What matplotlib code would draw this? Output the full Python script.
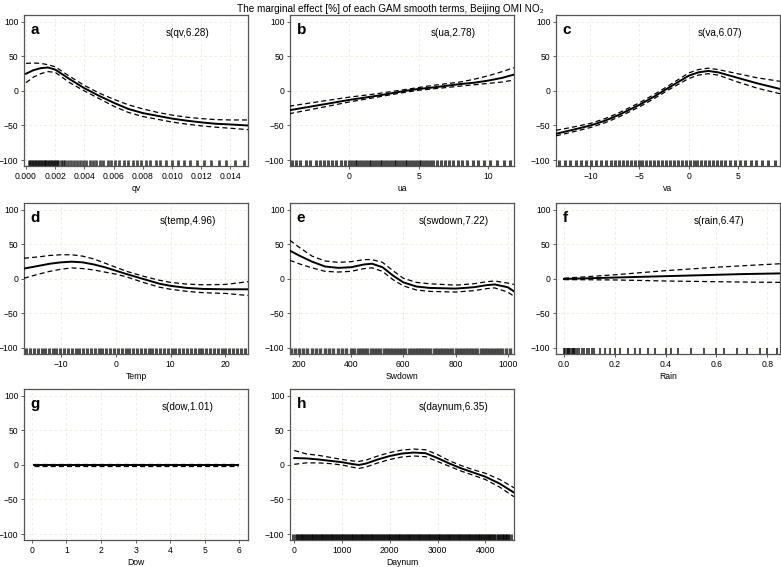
import numpy as np
import matplotlib
matplotlib.use('Agg')
from matplotlib import pyplot as plt

plt.rcParams['font.family'] = ['Liberation Sans', 'DejaVu Sans']

title = 'The marginal effect [%] of each GAM smooth terms, Beijing OMI NO\u2082'

# a: qv
qv_x = [0.0, 0.0005, 0.001, 0.0015, 0.002, 0.003, 0.004, 0.005, 0.006, 0.007, 0.008, 0.009, 0.010, 0.011, 0.012, 0.013, 0.014, 0.0152]
qv_fit = [25, 30, 33, 34, 31, 17, 4, -7, -17, -26, -32, -36, -40, -43, -45.5, -47.5, -48.5, -50]
qv_up = [40, 40.5, 40, 38, 35, 21, 8, -3, -12, -20, -26, -31, -35, -38, -40, -41.5, -42, -42]
qv_lo = [12, 20, 25, 28, 27, 12, 0, -11, -22, -31, -37, -41, -45, -48, -50.5, -52.5, -54, -56]
qv_rug = [0.0002, 0.0003, 0.0004, 0.0005, 0.0006, 0.0007, 0.0008, 0.0009, 0.0010, 0.0011,
          0.0012, 0.0013, 0.0014, 0.0015, 0.0016, 0.0017, 0.0018, 0.0019, 0.0020, 0.0021,
          0.0022, 0.0024, 0.0025, 0.0027, 0.0029, 0.0031, 0.0033, 0.0035, 0.0037, 0.0039,
          0.0041, 0.0044, 0.0046, 0.0048, 0.0051, 0.0053, 0.0056, 0.0058, 0.0061, 0.0064,
          0.0067, 0.0070, 0.0073, 0.0076, 0.0079, 0.0082, 0.0085, 0.0089, 0.0092, 0.0096,
          0.0100, 0.0104, 0.0108, 0.0112, 0.0117, 0.0122, 0.0127, 0.0132, 0.0137, 0.0143, 0.0149]

# b: ua
ua_x = [-4.3, -2, 0, 2, 4, 5, 6, 8, 9, 10, 11, 11.9]
ua_fit = [-28, -20, -13, -7, 0, 3, 5, 10, 12, 15, 19, 24]
ua_up = [-22, -15, -9, -4, 2, 5, 8, 13, 17, 22, 28, 34]
ua_lo = [-33, -24, -16, -9, -2, 1, 3, 7, 9, 11, 13, 16]
ua_rug = [-4.1, -3.8, -3.5, -3.1, -2.8, -2.4, -2.1, -1.8, -1.5, -1.2, -0.9, -0.6, -0.3, 0.0,
          0.2, 0.4, 0.6, 0.8, 1.0, 1.2, 1.4, 1.6, 1.8, 2.0, 2.2, 2.4, 2.6, 2.8, 3.0, 3.2,
          3.4, 3.6, 3.8, 4.0, 4.2, 4.4, 4.6, 4.8, 5.0, 5.2, 5.4, 5.6, 5.8, 6.0, 6.3, 6.6,
          6.9, 7.2, 7.5, 7.8, 8.1, 8.5, 8.9, 9.3, 9.7, 10.1, 10.6, 11.1, 11.6]

# c: va
va_x = [-13.5, -12, -10, -8.5, -7, -5, -3.5, -2, 0, 1, 2, 3, 5, 7, 9.3]
va_fit = [-62, -57, -50, -43, -34, -20, -8, 5, 22, 27, 29, 27, 19, 11, 3]
va_up = [-57, -53, -47, -40, -31, -17, -5, 8, 26, 31, 33, 31, 25, 19, 14]
va_lo = [-65, -60, -53, -46, -37, -23, -11, 2, 18, 23, 25, 23, 13, 4, -4]
va_rug = [-13.2, -12.6, -12.1, -11.5, -11.0, -10.4, -9.9, -9.4, -8.9, -8.4, -7.9, -7.5,
          -7.1, -6.7, -6.3, -5.9, -5.5, -5.1, -4.7, -4.3, -3.9, -3.5, -3.1, -2.7, -2.3,
          -1.9, -1.5, -1.1, -0.7, -0.3, 0.1, 0.5, 0.9, 1.3, 1.7, 2.1, 2.5, 2.9, 3.3, 3.7,
          4.2, 4.7, 5.2, 5.7, 6.3, 6.9, 7.5, 8.1, 8.8]

# d: temp
temp_x = [-16.7, -14, -12, -10, -8, -6, -4, -2, 0, 2, 5, 8, 10, 13, 16, 20, 24.1]
temp_fit = [15, 19, 22, 24, 25, 24, 21, 17, 12, 7, 0, -7, -10, -13, -14.5, -15, -15]
temp_up = [30, 32, 34, 35, 35, 33, 29, 23, 17, 11, 4, -2, -5, -7.5, -8.5, -8, -4]
temp_lo = [1, 7, 11, 14, 16, 15, 13, 10, 7, 3, -5, -12, -15, -18, -20, -21, -24]
temp_rug = [-16.3, -15.6, -14.9, -14.2, -13.5, -12.8, -12.1, -11.4, -10.8, -10.1, -9.4,
            -8.7, -8.0, -7.3, -6.6, -5.9, -5.2, -4.5, -3.8, -3.1, -2.4, -1.7, -1.0, -0.3,
            0.4, 1.1, 1.8, 2.5, 3.2, 3.9, 4.6, 5.3, 6.0, 6.7, 7.4, 8.1, 8.8, 9.5, 10.2,
            10.9, 11.6, 12.3, 13.0, 13.7, 14.4, 15.1, 15.8, 16.5, 17.2, 17.9, 18.6, 19.3,
            20.0, 20.7, 21.4, 22.1, 22.8, 23.5]

# e: swdown
sw_x = [165, 200, 250, 300, 350, 400, 450, 480, 520, 560, 600, 650, 700, 800, 870, 920, 950, 1000, 1024]
sw_fit = [41, 34, 25, 18, 16, 17, 21, 22, 17, 5, -5, -11, -13, -14, -12, -9, -8, -12, -18]
sw_up = [56, 46, 33, 26, 24, 25, 28, 28, 24, 12, 1, -5, -7, -9, -7, -4, -3, -6, -8]
sw_lo = [27, 22, 16, 11, 10, 11, 15, 16, 11, -1, -10, -16, -18, -19, -17, -14, -13, -19, -25]
sw_rug = [170, 185, 200, 215, 230, 250, 265, 280, 300, 315, 330, 350, 365, 380, 400, 412,
          425, 438, 450, 462, 475, 488, 500, 512, 524, 536, 548, 560, 572, 584, 596, 608,
          620, 632, 644, 656, 668, 680, 692, 704, 716, 728, 740, 752, 764, 776, 788, 800,
          812, 824, 836, 848, 860, 872, 884, 896, 908, 920, 932, 944, 956, 968, 980, 995, 1010]

# f: rain
rain_x = [0.0, 0.1, 0.2, 0.3, 0.4, 0.5, 0.6, 0.7, 0.85]
rain_fit = [0, 1, 2, 3, 4, 5, 6, 7, 8]
rain_up = [1, 3.5, 6, 9, 12, 14.5, 17, 19, 22]
rain_lo = [-1, -1.2, -1.5, -2.2, -3, -3.5, -4, -4.5, -5]
rain_rug = [0.0, 0.005, 0.01, 0.015, 0.02, 0.025, 0.03, 0.035, 0.04, 0.045, 0.05, 0.06,
            0.07, 0.08, 0.09, 0.1, 0.11, 0.12, 0.14, 0.16, 0.18, 0.2, 0.22, 0.25, 0.28,
            0.3, 0.33, 0.36, 0.4, 0.42, 0.45, 0.5, 0.55, 0.6, 0.63, 0.68, 0.72, 0.77, 0.8, 0.84]

# g: dow
dow_x = [0.05, 5.95]
dow_fit = [0, 0]
dow_up = [1, 1]
dow_lo = [-1, -1]
dow_rug = []

# h: daynum
day_x = [0, 250, 500, 750, 1000, 1200, 1350, 1500, 1750, 2000, 2250, 2500, 2750, 3000, 3250, 3500, 3750, 4000, 4300, 4600]
day_fit = [10, 9.5, 8, 6, 4, 1.5, 0, 2, 8, 13, 16.5, 18, 17, 10, 2, -5, -11, -17, -27, -40]
day_up = [21, 16, 14, 11, 8, 6, 5, 7, 13, 18, 21.5, 23, 22, 15, 6, -1, -7, -12, -21, -33]
day_lo = [1, 3, 3, 2, 0, -3, -5, -3, 3, 8, 11.5, 13, 12, 5, -2, -9, -15, -21, -32, -46]
day_rug = [20, 90, 160, 230, 300, 370, 440, 510, 580, 650, 720, 790, 860, 930, 1000, 1070,
           1140, 1210, 1280, 1350, 1420, 1490, 1560, 1630, 1700, 1770, 1840, 1910, 1980,
           2050, 2120, 2190, 2260, 2330, 2400, 2470, 2540, 2610, 2680, 2750, 2820, 2890,
           2960, 3030, 3100, 3170, 3240, 3310, 3380, 3450, 3520, 3590, 3660, 3730, 3800,
           3870, 3940, 4010, 4080, 4150, 4230, 4310, 4380, 4440, 4500]

panels = [
    ('a', 's(qv,6.28)', 'qv', qv_x, qv_fit, qv_up, qv_lo, qv_rug, (-0.00014, 0.0152),
     [0.0, 0.002, 0.004, 0.006, 0.008, 0.010, 0.012, 0.014], '%.3f', 2.0),
    ('b', 's(ua,2.78)', 'ua', ua_x, ua_fit, ua_up, ua_lo, ua_rug, (-4.24, 11.85), [0, 5, 10], '%d', 2.2),
    ('c', 's(va,6.07)', 'va', va_x, va_fit, va_up, va_lo, va_rug, (-13.5, 9.3), [-10, -5, 0, 5], '%d', 2.2),
    ('d', 's(temp,4.96)', 'Temp', temp_x, temp_fit, temp_up, temp_lo, temp_rug, (-16.7, 24.1),
     [-10, 0, 10, 20], '%d', 2.2),
    ('e', 's(swdown,7.22)', 'Swdown', sw_x, sw_fit, sw_up, sw_lo, sw_rug, (165.5, 1024),
     [200, 400, 600, 800, 1000], '%d', 2.4),
    ('f', 's(rain,6.47)', 'Rain', rain_x, rain_fit, rain_up, rain_lo, rain_rug, (-0.0315, 0.85),
     [0.0, 0.2, 0.4, 0.6, 0.8], '%.1f', 1.4),
    ('g', 's(dow,1.01)', 'Dow', dow_x, dow_fit, dow_up, dow_lo, dow_rug, (-0.23, 6.25),
     [0, 1, 2, 3, 4, 5, 6], '%d', 1.0),
    ('h', 's(daynum,6.35)', 'Daynum', day_x, day_fit, day_up, day_lo, day_rug, (-90, 4600),
     [0, 1000, 2000, 3000, 4000], '%d', 5.0),
]

fig = plt.figure(figsize=(7.81, 5.67), dpi=100)
fig.text(0.5, 0.993, title, ha='center', va='top', fontsize=7.2)

lefts = [0.0307, 0.3713, 0.7119]
bottoms = [0.7072, 0.3757, 0.0476]
w, h = 0.2868, 0.2663
ylim = (-108.7, 110)

for i, (lab, note, xl, x, fit, up, lo, rug, xlim, xt, fmt, rw) in enumerate(panels):
    ax = fig.add_axes([lefts[i % 3], bottoms[i // 3], w, h])
    ax.grid(True, color='#ecebd6', linestyle=(0, (3, 3)), linewidth=0.6)
    ax.set_axisbelow(True)
    ax.plot(x, fit, color='black', lw=1.4, zorder=3)
    ax.plot(x, up, color='black', lw=0.9, ls=(0, (4, 2.5)), zorder=3)
    ax.plot(x, lo, color='black', lw=0.9, ls=(0, (4, 2.5)), zorder=3)
    if len(rug):
        ax.vlines(rug, ylim[0], -100, color='black', lw=rw, alpha=0.7, zorder=2)
    ax.set_xlim(*xlim)
    ax.set_ylim(*ylim)
    ax.set_xticks(xt)
    ax.set_xticklabels([(fmt % v).replace('-', '\u2212') for v in xt])
    ax.set_yticks([-100, -50, 0, 50, 100])
    ax.tick_params(labelsize=6.2, length=2.5, width=0.6, pad=1.5, color='#444444')
    for s in ax.spines.values():
        s.set_color('#555555')
        s.set_linewidth(0.9)
    ax.set_xlabel(xl, fontsize=6.2, labelpad=2.5)
    ax.text(0.03, 0.95, lab, transform=ax.transAxes, fontsize=11, fontweight='bold',
            va='top', ha='left')
    ax.text(0.73, 0.88, note, transform=ax.transAxes, fontsize=7.2, ha='center', va='center')

plt.savefig('out.png', dpi=100)
